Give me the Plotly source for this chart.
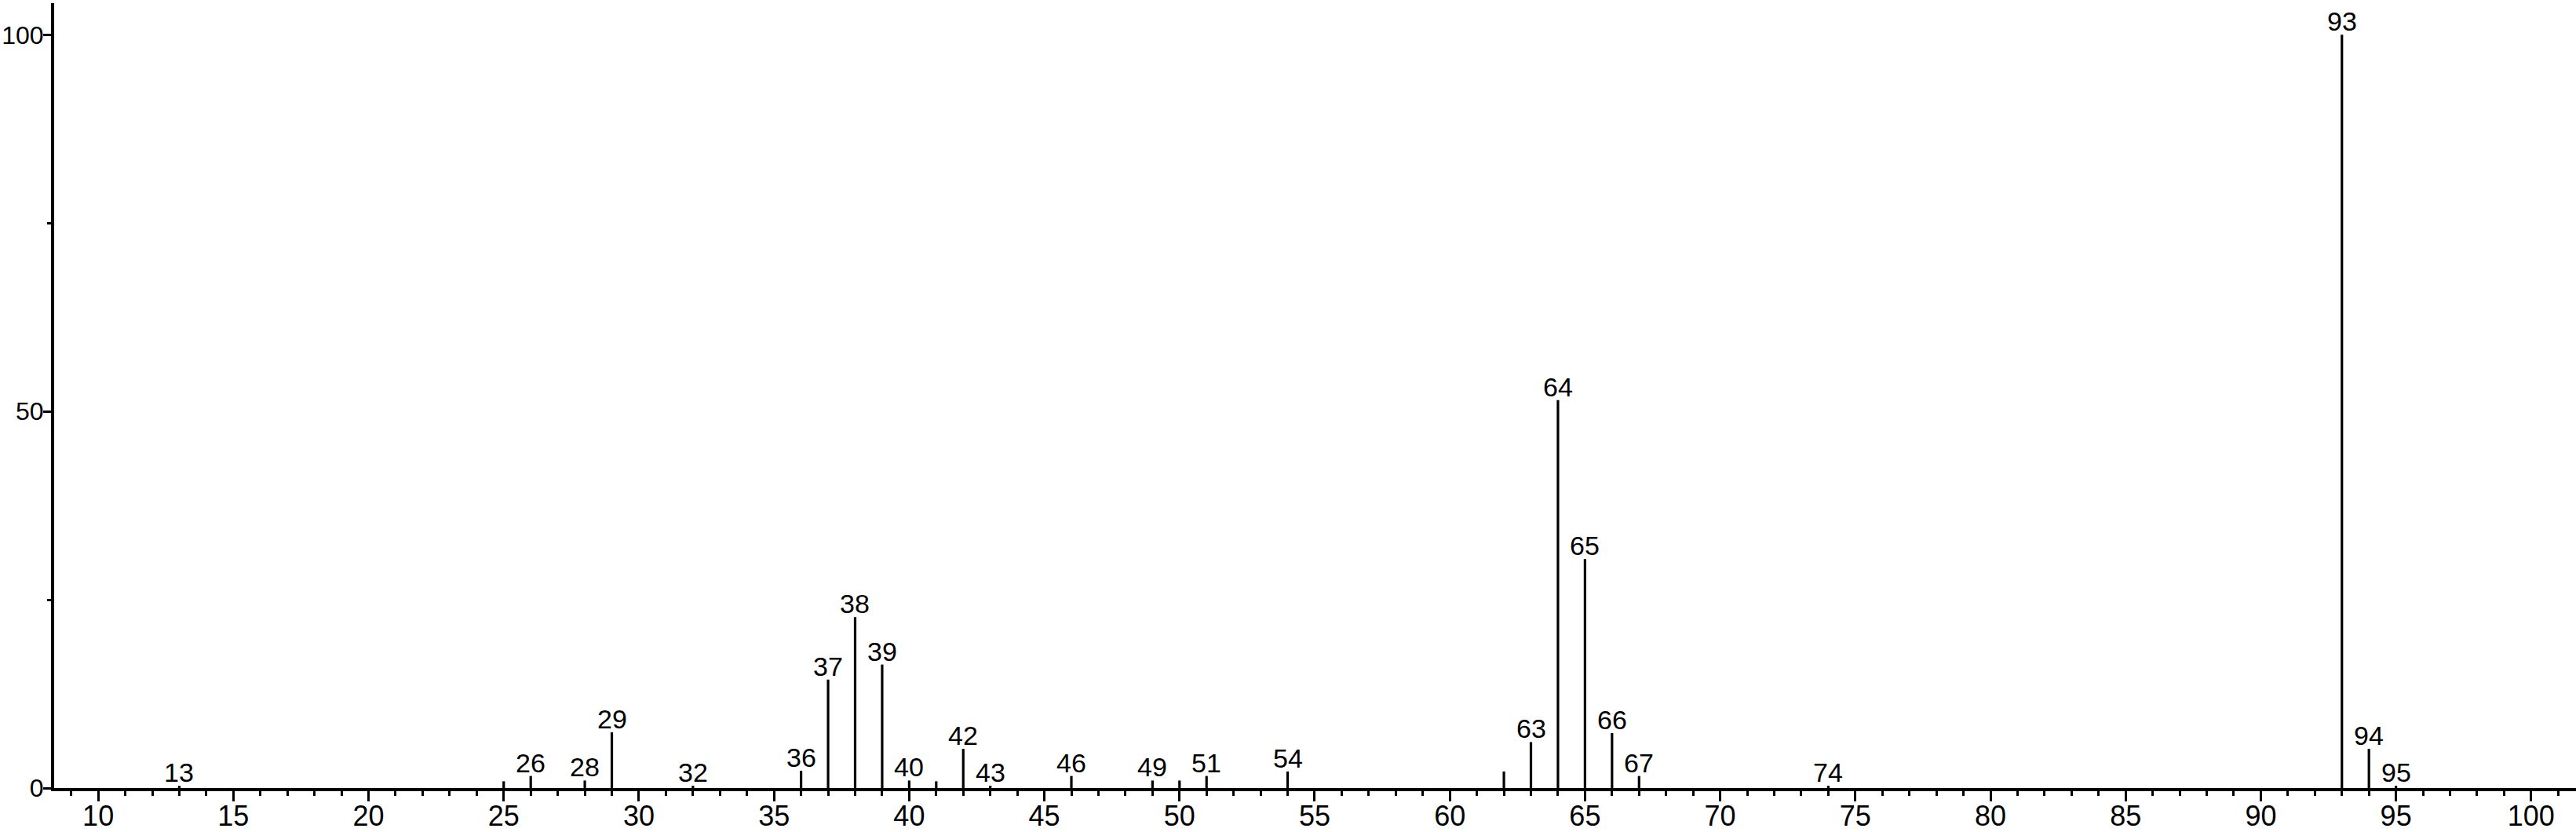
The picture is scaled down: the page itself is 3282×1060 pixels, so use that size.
import plotly.graph_objects as go

# m/z values and relative intensities (%)
mz = [13, 25, 26, 28, 29, 32, 36, 37, 38, 39, 40, 41, 42, 43, 46, 49, 50, 51, 54,
      62, 63, 64, 65, 66, 67, 74, 93, 94, 95]
intensity = [0.3, 0.9, 1.6, 1.0, 7.4, 0.3, 2.3, 14.4, 22.7, 16.4, 1.0, 0.9, 5.2, 0.3,
             1.6, 1.0, 1.0, 1.6, 2.2, 2.2, 6.1, 51.5, 30.4, 7.3, 1.6, 0.3, 100, 5.2, 0.3]
# peaks that carry a text label
labeled_mz = [13, 26, 28, 29, 32, 36, 37, 38, 39, 40, 42, 43, 46, 49, 51, 54,
              63, 64, 65, 66, 67, 74, 93, 94, 95]

x_ticks = list(range(10, 101, 5))
y_ticks = [0, 50, 100]

xs, ys = [], []
for m, h in zip(mz, intensity):
    xs += [m, m, None]
    ys += [0, h, None]

fig = go.Figure()
fig.add_trace(go.Scatter(x=xs, y=ys, mode="lines",
                         line=dict(color="black", width=3.2),
                         hoverinfo="skip", showlegend=False))

lookup = dict(zip(mz, intensity))
for m in labeled_mz:
    fig.add_annotation(x=m, y=lookup[m], text=str(m), showarrow=False,
                       xanchor="center", yanchor="bottom", yshift=-4,
                       font=dict(family="Liberation Sans, Arial", size=34, color="black"))

fig.update_layout(
    width=3282, height=1060,
    margin=dict(l=69, r=0, t=4, b=56),
    paper_bgcolor="white", plot_bgcolor="white",
    font=dict(family="Liberation Sans, Arial", size=35, color="black"),
    showlegend=False,
)
fig.update_xaxes(range=[8.37, 101.66], showgrid=False, zeroline=False, automargin=False,
                 showline=True, linecolor="black", linewidth=4,
                 tickmode="array", tickvals=x_ticks, ticktext=[str(v) for v in x_ticks],
                 ticks="outside", ticklen=13, tickwidth=3, tickcolor="black",
                 ticklabelstandoff=-12,
                 minor=dict(dtick=1, tick0=0, ticks="outside", ticklen=6,
                            tickwidth=3, tickcolor="black"),
                 tickfont=dict(size=36))
fig.update_yaxes(range=[0, 104.2], showgrid=False, zeroline=False, automargin=False,
                 showline=True, linecolor="black", linewidth=4,
                 tickmode="array", tickvals=y_ticks, ticktext=[str(v) for v in y_ticks],
                 ticks="outside", ticklen=10, tickwidth=3, tickcolor="black",
                 ticklabelstandoff=-7,
                 minor=dict(dtick=25, tick0=0, ticks="outside", ticklen=5,
                            tickwidth=3, tickcolor="black"),
                 tickfont=dict(size=32))

fig.write_html("out.html", config={"displayModeBar": False},
               post_script="document.body.style.margin='0';document.body.style.overflow='hidden';")
